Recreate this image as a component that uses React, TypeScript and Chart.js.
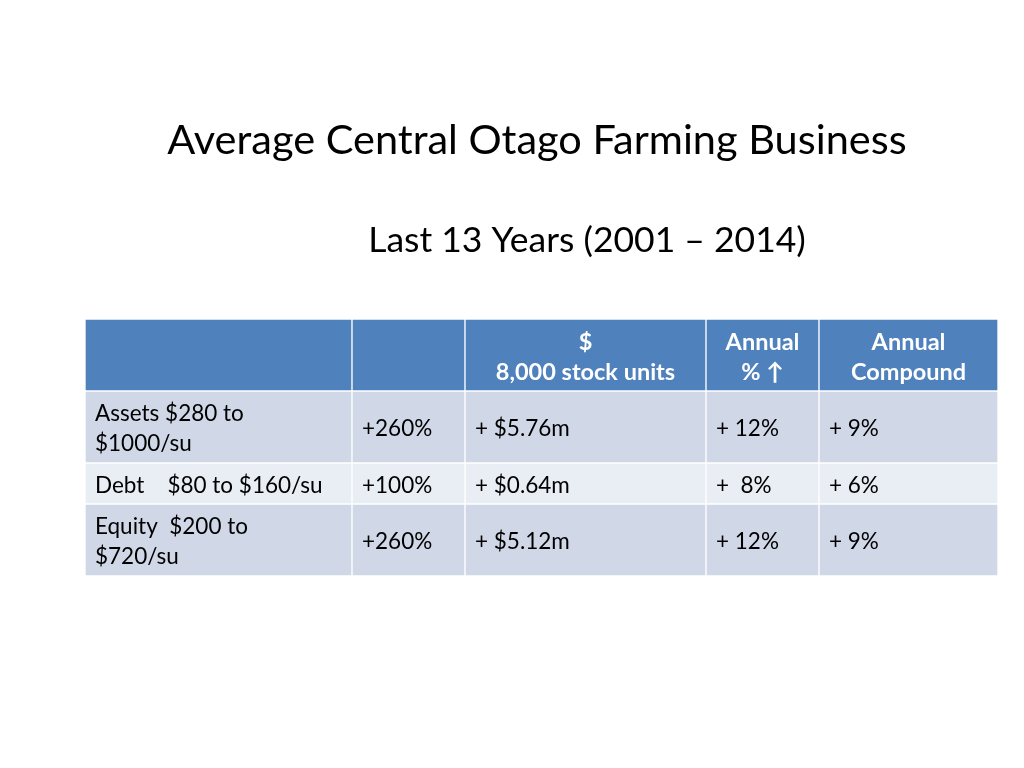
import { useEffect, useRef } from "react";
import { Chart, registerables } from "chart.js";

Chart.register(...registerables);

// ---- Data ----
const TITLE = "Average Central Otago Farming Business";
const SUBTITLE = "Last 13 Years (2001 \u2013 2014)";
const headerCells: string[][] = [[""], [""], ["$", "8,000 stock units"], ["Annual", "% \u2191"], ["Annual", "Compound"]];
const rowLabels: string[][] = [["Assets $280 to", "$1000/su"], ["Debt    $80 to $160/su"], ["Equity  $200 to", "$720/su"]];
const totalChange = ["+260%", "+100%", "+260%"];
const dollarChange = ["+ $5.76m", "+ $0.64m", "+ $5.12m"];
const annualPct = ["+ 12%", "+  8%", "+ 12%"];
const annualCompound = ["+ 9%", "+ 6%", "+ 9%"];

// ---- Layout ----
const FONT = "Lato, 'Open Sans', sans-serif";
const COL_EDGES = [85, 352, 465, 706, 819, 998];
const TABLE_TOP = 319;
const LINE_H = 31;
const ROW_PAD = 10;
const HEADER_COLOR = "#4F81BD";
const ROW_COLORS = ["#D0D8E8", "#E9EDF4", "#D0D8E8"];

type Row = { cells: string[][]; color: string; header: boolean };

const rows: Row[] = [
  { cells: headerCells, color: HEADER_COLOR, header: true },
  ...rowLabels.map((lab, i) => ({
    cells: [lab, [totalChange[i]], [dollarChange[i]], [annualPct[i]], [annualCompound[i]]],
    color: ROW_COLORS[i],
    header: false,
  })),
];

function buildDatasets() {
  let top = TABLE_TOP;
  return rows.map((r) => {
    const lines = Math.max(...r.cells.map((c) => c.length));
    const h = lines * LINE_H + ROW_PAD;
    const center = top + h / 2;
    top += h;
    return {
      label: r.header ? "header" : r.cells[0].join(" "),
      data: r.cells.map((_, ci) => ({ x: [COL_EDGES[ci], COL_EDGES[ci + 1]], y: center })),
      backgroundColor: r.color,
      borderColor: "#ffffff",
      borderWidth: 1,
      borderSkipped: false as const,
      barThickness: h,
      grouped: false,
    };
  });
}

const textPlugin = {
  id: "tableText",
  afterDatasetsDraw(chart: any) {
    const ctx = chart.ctx as CanvasRenderingContext2D;
    const xs = chart.scales.x;
    const ys = chart.scales.y;
    ctx.save();
    ctx.fillStyle = "#000";
    ctx.textBaseline = "middle";
    ctx.textAlign = "center";
    ctx.font = `41.5px ${FONT}`;
    ctx.fillText(TITLE, xs.getPixelForValue(537), ys.getPixelForValue(141));
    ctx.font = `35.5px ${FONT}`;
    ctx.fillText(SUBTITLE, xs.getPixelForValue(587), ys.getPixelForValue(241));

    rows.forEach((r, ri) => {
      const meta = chart.getDatasetMeta(ri);
      meta.data.forEach((el: any, ci: number) => {
        const p = el.getProps(["x", "y", "base"], true);
        const left = Math.min(p.x, p.base);
        const right = Math.max(p.x, p.base);
        const lines = r.cells[ci];
        const n = lines.length;
        if (r.header) {
          ctx.font = `bold 23.5px ${FONT}`;
          ctx.fillStyle = "#ffffff";
          ctx.textAlign = "center";
        } else {
          ctx.font = `22.5px ${FONT}`;
          ctx.fillStyle = "#000000";
          ctx.textAlign = "left";
        }
        lines.forEach((t, li) => {
          const yy = p.y + 2 + (li - (n - 1) / 2) * 30;
          const xx = r.header ? (left + right) / 2 : left + 10;
          ctx.fillText(t, xx, yy);
        });
      });
    });
    ctx.restore();
  },
};

export default function App() {
  const ref = useRef<HTMLCanvasElement | null>(null);
  useEffect(() => {
    if (!ref.current) return;
    const chart = new Chart(ref.current, {
      type: "bar",
      data: { datasets: buildDatasets() as any },
      options: {
        animation: false,
        responsive: false,
        indexAxis: "y",
        layout: { padding: 0 },
        plugins: { legend: { display: false }, title: { display: false }, tooltip: { enabled: false } },
        scales: {
          x: { type: "linear", min: 0, max: 1024, display: false, offset: false },
          y: { type: "linear", min: 0, max: 768, reverse: true, display: false, offset: false },
        },
      },
      plugins: [textPlugin],
    });
    return () => chart.destroy();
  }, []);
  return (
    <div style={{ position: "fixed", left: 0, top: 0, width: 1024, height: 768, background: "#fff" }}>
      <canvas ref={ref} width={1024} height={768} />
    </div>
  );
}
